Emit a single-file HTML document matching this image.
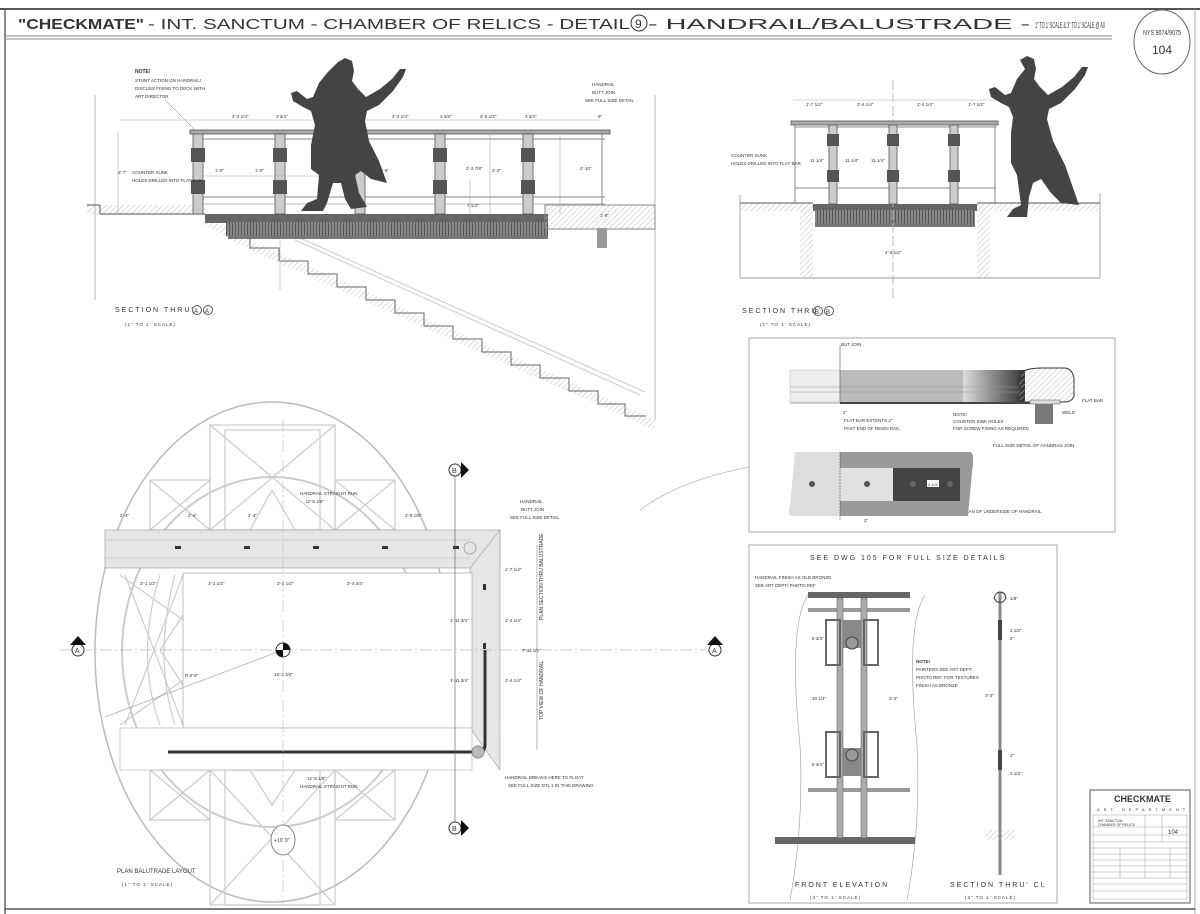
<!DOCTYPE html>
<html><head><meta charset="utf-8"><style>
html,body{margin:0;padding:0;background:#fff}
svg{display:block}
text{font-family:"Liberation Sans",sans-serif;fill:#333}
</style></head><body>
<svg width="1200" height="914" viewBox="0 0 1200 914" xmlns="http://www.w3.org/2000/svg">
<defs>
<pattern id="h" width="4" height="4" patternUnits="userSpaceOnUse" patternTransform="rotate(45)"><line x1="0" y1="0" x2="0" y2="4" stroke="#bbb" stroke-width="1"/></pattern>
<pattern id="g" width="3" height="6" patternUnits="userSpaceOnUse"><rect width="3" height="6" fill="#888"/><line x1="1.5" y1="0" x2="1.5" y2="6" stroke="#555"/></pattern>
<linearGradient id="grad" x1="0" x2="1"><stop offset="0" stop-color="#ddd"/><stop offset="1" stop-color="#333"/></linearGradient>
</defs>
<rect x="0" y="0" width="1200" height="914" fill="#fff"/>
<line x1="0" y1="9" x2="1200" y2="9" stroke="#555" stroke-width="2"/>
<line x1="5" y1="9" x2="5" y2="914" stroke="#666" stroke-width="1.5"/>
<line x1="5" y1="36" x2="1112" y2="36" stroke="#888" stroke-width="1"/>
<line x1="5" y1="39" x2="1112" y2="39" stroke="#888" stroke-width="1"/>
<line x1="1195" y1="9" x2="1195" y2="914" stroke="#aaa"/>
<line x1="5" y1="909" x2="1195" y2="909" stroke="#555" stroke-width="1.5"/>
<text x="18" y="29" font-size="15" font-weight="bold" fill="#111" textLength="126" lengthAdjust="spacingAndGlyphs">"CHECKMATE"</text>
<text x="148" y="29" font-size="15" fill="#222" textLength="482" lengthAdjust="spacingAndGlyphs">- INT. SANCTUM - CHAMBER OF RELICS - DETAIL</text>
<circle cx="639" cy="23" r="8" fill="none" stroke="#333"/><text x="635" y="28" font-size="12">9</text>
<text x="648" y="29" font-size="15" fill="#222" textLength="382" lengthAdjust="spacingAndGlyphs">- HANDRAIL/BALUSTRADE -</text>
<text x="1035" y="28" font-size="8" fill="#222" textLength="70" lengthAdjust="spacingAndGlyphs">1" TO 1' SCALE &amp; 3" TO 1' SCALE @ A0</text>
<ellipse cx="1162" cy="42" rx="28" ry="32" fill="#fff" stroke="#666"/>
<text x="1143" y="35" font-size="7" textLength="38" lengthAdjust="spacingAndGlyphs">NYS 9074/9075</text>
<text x="1152" y="54" font-size="12">104</text>

<!-- SECTION A-A -->
<line x1="95" y1="95" x2="95" y2="300" stroke="#bbb"/>
<line x1="655" y1="95" x2="655" y2="420" stroke="#bbb"/>
<rect x="87" y="205" width="118" height="10" fill="url(#h)"/>
<line x1="87" y1="205" x2="100" y2="205" stroke="#555"/><line x1="100" y1="205" x2="100" y2="214" stroke="#555"/>
<line x1="100" y1="214" x2="205" y2="214" stroke="#555"/>
<polygon points="205,215 250,240 655,420 655,430 250,250 205,225" fill="url(#h)"/>
<path d="M250,238 l0,10 29,0 0,13 29,0 0,13 29,0 0,13 29,0 0,13 29,0 0,13 29,0 0,13 29,0 0,13 29,0 0,13 29,0 0,13 29,0 0,13 29,0 0,13 29,0 0,13 27,0 0,12 21,0" fill="none" stroke="#666"/>
<line x1="295" y1="240" x2="640" y2="395" stroke="#ccc"/><line x1="300" y1="238" x2="645" y2="392" stroke="#ccc"/>
<line x1="280" y1="240" x2="280" y2="290" stroke="#ccc"/>
<rect x="205" y="214" width="343" height="9" fill="#666"/>
<rect x="226" y="222" width="322" height="14" fill="url(#g)"/>
<rect x="228" y="235" width="320" height="4" fill="#777"/>
<rect x="545" y="205" width="110" height="24" fill="url(#h)" stroke="#888"/>
<rect x="597" y="228" width="10" height="20" fill="#999"/>
<rect x="190" y="130" width="420" height="4" fill="#aaa" stroke="#555" stroke-width="0.8"/>
<line x1="198" y1="139" x2="605" y2="139" stroke="#888"/>
<line x1="198" y1="197" x2="605" y2="197" stroke="#888"/>
<line x1="198" y1="204" x2="605" y2="204" stroke="#bbb"/>
<g fill="#ccc" stroke="#555" stroke-width="0.8">
<rect x="193" y="134" width="10" height="80"/><rect x="275" y="134" width="10" height="80"/><rect x="355" y="134" width="10" height="80"/><rect x="435" y="134" width="10" height="80"/><rect x="523" y="134" width="10" height="80"/>
</g>
<g fill="#555">
<rect x="191" y="148" width="14" height="14"/><rect x="191" y="180" width="14" height="14"/>
<rect x="273" y="148" width="14" height="14"/><rect x="273" y="180" width="14" height="14"/>
<rect x="433" y="148" width="14" height="14"/><rect x="433" y="180" width="14" height="14"/>
<rect x="521" y="148" width="14" height="14"/><rect x="521" y="180" width="14" height="14"/>
</g>
<line x1="602" y1="134" x2="602" y2="205" stroke="#888"/>
<g stroke="#aaa" stroke-width="0.6"><line x1="120" y1="120" x2="600" y2="120"/><line x1="118" y1="132" x2="118" y2="214"/><line x1="200" y1="176" x2="350" y2="176"/><line x1="470" y1="180" x2="470" y2="214"/><line x1="490" y1="132" x2="490" y2="214"/><line x1="560" y1="132" x2="560" y2="214"/></g>
<!-- figure A -->
<path d="M338,62 l7,-4 7,3 2,10 -2,10 6,8 8,8 14,-8 12,-10 8,-10 6,0 -3,8 -10,14 -14,14 -12,6 -2,10 4,20 10,20 8,22 -16,-4 -10,-8 -6,4 4,18 8,14 -16,2 -6,-10 -4,-16 -8,0 -6,20 -4,8 -22,0 6,-8 10,-4 2,-24 -8,-6 0,-24 4,-20 -4,-14 -8,-4 -10,-6 -2,-8 6,-2 10,8 6,-2 6,-14 8,-10z" fill="#444"/>
<text x="135" y="73" font-size="5" font-weight="bold">NOTE!</text>
<text x="135" y="82" font-size="4.5">STUNT ACTION ON HANDRAIL!</text>
<text x="135" y="90" font-size="4.5">DISCUSS FIXING TO DECK WITH</text>
<text x="135" y="98" font-size="4.5">ART DIRECTOR</text>
<line x1="165" y1="100" x2="195" y2="130" stroke="#777" stroke-width="0.5"/>
<text x="132" y="174" font-size="4.5">COUNTER SUNK</text>
<text x="132" y="182" font-size="4.5">HOLES DRILLED INTO FLAT BAR</text>
<text x="118" y="174" font-size="4.5">3'-7"</text>
<text x="592" y="86" font-size="4.5">HANDRAIL</text><text x="592" y="94" font-size="4.5">BUTT JOIN</text><text x="585" y="102" font-size="4.5">SEE FULL SIZE DETAIL</text>
<g font-size="4.5"><text x="232" y="118">3'-2 1/4"</text><text x="276" y="118">3 3/4"</text><text x="392" y="118">3'-2 1/4"</text><text x="440" y="118">3 3/4"</text><text x="480" y="118">3'-5 1/2"</text><text x="525" y="118">3 3/4"</text><text x="598" y="118">9"</text>
<text x="215" y="172">1'-6"</text><text x="255" y="172">1'-6"</text><text x="380" y="172">1'-6"</text><text x="466" y="170">2'-3 7/8"</text><text x="492" y="172">2'-3"</text><text x="580" y="170">2'-10"</text><text x="467" y="207">7 1/4"</text><text x="600" y="217">1'-0"</text></g>
<text x="115" y="312" font-size="7" letter-spacing="2">SECTION THRU'</text>
<circle cx="197" cy="310" r="4.5" fill="none" stroke="#555"/><circle cx="208" cy="310" r="4.5" fill="none" stroke="#555"/>
<text x="194" y="313" font-size="6">A</text><text x="205" y="313" font-size="6">A</text>
<text x="125" y="326" font-size="4.5" letter-spacing="1">(1" TO 1' SCALE)</text>

<!-- SECTION B-B -->
<rect x="740" y="203" width="73" height="8" fill="url(#h)"/>
<line x1="740" y1="203" x2="813" y2="203" stroke="#555"/>
<line x1="740" y1="278" x2="1100" y2="278" stroke="#999"/>
<line x1="740" y1="195" x2="740" y2="278" stroke="#aaa"/><line x1="1100" y1="193" x2="1100" y2="278" stroke="#aaa"/>
<rect x="800" y="205" width="13" height="73" fill="url(#h)"/><rect x="977" y="205" width="13" height="73" fill="url(#h)"/>
<rect x="977" y="203" width="123" height="8" fill="url(#h)"/>
<line x1="977" y1="203" x2="1100" y2="203" stroke="#555"/>
<rect x="813" y="204" width="164" height="7" fill="#666"/>
<rect x="815" y="210" width="160" height="14" fill="url(#g)"/>
<rect x="815" y="223" width="160" height="4" fill="#777"/>
<line x1="893" y1="80" x2="893" y2="300" stroke="#bbb" stroke-dasharray="10,3"/>
<rect x="791" y="121" width="207" height="4" fill="#aaa" stroke="#555" stroke-width="0.8"/>
<line x1="795" y1="127" x2="996" y2="127" stroke="#888"/>
<line x1="795" y1="188" x2="996" y2="188" stroke="#888"/>
<line x1="795" y1="125" x2="795" y2="204" stroke="#888"/><line x1="995" y1="125" x2="995" y2="204" stroke="#888"/>
<g fill="#ccc" stroke="#555" stroke-width="0.8"><rect x="829" y="125" width="8" height="79"/><rect x="889" y="125" width="8" height="79"/><rect x="950" y="125" width="8" height="79"/></g>
<g fill="#555"><rect x="827" y="134" width="12" height="12"/><rect x="827" y="170" width="12" height="12"/><rect x="887" y="134" width="12" height="12"/><rect x="887" y="170" width="12" height="12"/><rect x="948" y="134" width="12" height="12"/><rect x="948" y="170" width="12" height="12"/></g>
<g font-size="4.5"><text x="806" y="106">1'-7 1/2"</text><text x="857" y="106">2'-4 1/4"</text><text x="917" y="106">2'-4 1/4"</text><text x="968" y="106">1'-7 1/2"</text>
<text x="810" y="162">11 1/4"</text><text x="845" y="162">11 1/4"</text><text x="871" y="162">11 1/4"</text><text x="885" y="254">4'-5 1/2"</text></g>
<line x1="793" y1="100" x2="996" y2="100" stroke="#aaa" stroke-width="0.6"/>
<text x="731" y="157" font-size="4.5">COUNTER SUNK</text><text x="731" y="165" font-size="4.5">HOLES DRILLED INTO FLAT BAR</text>
<!-- figure B -->
<path d="M1020,60 l7,-4 7,3 2,10 -2,10 6,8 8,8 14,-8 12,-10 8,-10 6,0 -3,8 -10,14 -14,14 -12,6 -2,10 6,22 12,24 14,40 -18,-2 -10,-10 -10,-14 -8,4 -4,14 -2,20 -20,0 6,-8 8,-4 -4,-30 -6,-12 0,-30 2,-16 -4,-10 -8,-4 -10,-6 -2,-8 6,-2 10,8 6,-2 6,-14 8,-10z" fill="#444"/>
<text x="742" y="313" font-size="7" letter-spacing="2">SECTION THRU'</text>
<circle cx="818" cy="311" r="4.5" fill="none" stroke="#555"/><circle cx="829" cy="311" r="4.5" fill="none" stroke="#555"/>
<text x="815" y="314" font-size="6">B</text><text x="826" y="314" font-size="6">B</text>
<text x="760" y="326" font-size="4.5" letter-spacing="1">(1" TO 1' SCALE)</text>

<!-- DETAIL BOX -->
<rect x="749" y="338" width="366" height="194" fill="none" stroke="#aaa"/>
<rect x="790" y="370" width="50" height="32" fill="#eee" stroke="#bbb" stroke-width="0.5"/>
<rect x="840" y="370" width="185" height="32" fill="#bbb"/>
<rect x="963" y="370" width="62" height="32" fill="url(#grad)"/>
<line x1="790" y1="387" x2="1020" y2="387" stroke="#999" stroke-width="0.5"/>
<line x1="790" y1="392" x2="1020" y2="392" stroke="#999" stroke-width="0.5"/>
<path d="M1022,372 q6,-4 20,-4 l22,0 q8,0 10,10 l0,18 q-2,6 -10,6 l-40,0 q-6,0 -6,-6 l4,-6 -4,-6z" fill="url(#h)" stroke="#333"/>
<rect x="840" y="402" width="190" height="2" fill="#444"/>
<rect x="790" y="402" width="50" height="2" fill="#ccc"/>
<rect x="1030" y="400" width="30" height="4" fill="#ddd" stroke="#555" stroke-width="0.5"/>
<rect x="1035" y="404" width="18" height="20" fill="#777"/>
<line x1="840" y1="345" x2="840" y2="402" stroke="#555" stroke-width="0.6"/>
<text x="841" y="346" font-size="4.5">BUT JOIN</text>
<g font-size="4.5"><text x="843" y="414">2"</text><text x="844" y="422">FLAT BAR EXTENTS 2"</text><text x="844" y="430">PAST END OF RESIN RAIL</text>
<text x="953" y="416">NOTE!</text><text x="953" y="423">COUNTER SINK HOLES</text><text x="953" y="430">FOR SCREW FIXING AS REQUIRED</text>
<text x="1082" y="402">FLAT BAR</text><text x="1062" y="414">WELD</text>
<text x="993" y="447">FULL SIZE DETAIL OF HANDRAIL JOIN</text>
<text x="963" y="513">PLAN OF UNDERSIDE OF HANDRAIL</text><text x="864" y="522">2"</text></g>
<path d="M795,452 l45,0 0,64 -48,0 q-5,0 -2,-10z" fill="#ddd"/>
<rect x="840" y="452" width="122" height="64" fill="#999"/>
<rect x="840" y="468" width="53" height="33" fill="#e2e2e2"/>
<rect x="893" y="468" width="67" height="33" fill="#444"/>
<path d="M960,452 l10,0 q5,0 2,20 l-4,44 -8,0z" fill="#999"/>
<circle cx="812" cy="484" r="3" fill="#555"/><circle cx="867" cy="484" r="3" fill="#555"/><circle cx="913" cy="484" r="3" fill="#666"/><circle cx="950" cy="484" r="3" fill="#666"/>
<rect x="927" y="480" width="12" height="7" fill="#fff"/><text x="928" y="486" font-size="4">2 1/4"</text>
<line x1="840" y1="452" x2="840" y2="520" stroke="#333" stroke-dasharray="2,1" stroke-width="0.5"/>
<path d="M640,510 q40,-30 110,-43" fill="none" stroke="#999" stroke-width="0.6"/>

<!-- FRONT ELEVATION BOX -->
<rect x="749" y="545" width="308" height="358" fill="none" stroke="#aaa"/>
<text x="810" y="560" font-size="7" letter-spacing="2">SEE DWG 105 FOR FULL SIZE DETAILS</text>
<text x="755" y="579" font-size="4.5">HANDRAIL FINISH AS OLD BRONZE</text><text x="755" y="587" font-size="4.5">SEE ART DEPT/ PHOTO REF</text>
<path d="M808,595 q-20,30 -8,150 q4,80 -10,155" fill="none" stroke="#999" stroke-width="0.6"/>
<path d="M925,595 q-20,30 -8,150 q4,80 -10,155" fill="none" stroke="#999" stroke-width="0.6"/>
<rect x="808" y="592" width="102" height="6" fill="#666"/>
<rect x="808" y="608" width="102" height="4" fill="#999"/>
<rect x="808" y="788" width="102" height="4" fill="#999"/>
<rect x="775" y="837" width="140" height="7" fill="#666"/>
<rect x="837" y="598" width="6" height="240" fill="#aaa" stroke="#555" stroke-width="0.5"/>
<rect x="861" y="598" width="6" height="240" fill="#aaa" stroke="#555" stroke-width="0.5"/>
<g fill="none" stroke="#666" stroke-width="2"><rect x="826" y="620" width="14" height="45"/><rect x="864" y="620" width="14" height="45"/><rect x="826" y="732" width="14" height="45"/><rect x="864" y="732" width="14" height="45"/></g>
<rect x="843" y="620" width="18" height="28" fill="#888"/><circle cx="852" cy="643" r="6" fill="#999" stroke="#444"/>
<rect x="843" y="748" width="18" height="28" fill="#888"/><circle cx="852" cy="755" r="6" fill="#999" stroke="#444"/>
<g font-size="4.5"><text x="812" y="640">8 3/4"</text><text x="812" y="700">10 1/4"</text><text x="812" y="766">8 3/4"</text><text x="889" y="700">3'-3"</text>
<text x="916" y="663" font-weight="bold">NOTE!</text><text x="916" y="671">PAINTERS SEE ART DEPT.</text><text x="916" y="679">PHOTO REF. FOR TEXTURES</text><text x="916" y="687">FINISH AS BRONZE</text></g>
<line x1="1000" y1="592" x2="1000" y2="875" stroke="#888" stroke-width="3"/>
<path d="M994,598 q2,-6 6,-6 q5,0 6,6 l-3,4 -6,0z" fill="url(#h)" stroke="#333"/>
<rect x="998" y="620" width="4" height="20" fill="#444"/><rect x="998" y="750" width="4" height="20" fill="#444"/>
<rect x="985" y="830" width="30" height="10" fill="url(#h)"/>
<g font-size="4.5"><text x="1010" y="600">1/8"</text><text x="1010" y="632">2 1/2"</text><text x="1010" y="640">2"</text><text x="985" y="697">3'-3"</text><text x="1010" y="757">2"</text><text x="1010" y="775">2 1/2"</text></g>
<text x="795" y="887" font-size="7" letter-spacing="2">FRONT ELEVATION</text>
<text x="810" y="899" font-size="4.5" letter-spacing="1">(3" TO 1' SCALE)</text>
<text x="950" y="887" font-size="7" letter-spacing="2">SECTION THRU' CL</text>
<text x="965" y="899" font-size="4.5" letter-spacing="1">(3" TO 1' SCALE)</text>

<!-- TITLE BLOCK -->
<rect x="1090" y="790" width="100" height="113" fill="#fff" stroke="#555"/>
<text x="1114" y="802" font-size="9" font-weight="bold" fill="#222">CHECKMATE</text>
<text x="1097" y="811" font-size="4" letter-spacing="4">ART DEPARTMENT</text>
<g stroke="#888" stroke-width="0.4" fill="none">
<rect x="1093" y="815" width="94" height="84"/>
<line x1="1093" y1="827" x2="1187" y2="827"/><line x1="1093" y1="835" x2="1187" y2="835"/><line x1="1093" y1="842" x2="1187" y2="842"/>
<line x1="1093" y1="848" x2="1187" y2="848"/><line x1="1093" y1="854" x2="1187" y2="854"/><line x1="1093" y1="860" x2="1187" y2="860"/><line x1="1093" y1="866" x2="1187" y2="866"/><line x1="1093" y1="872" x2="1187" y2="872"/><line x1="1093" y1="878" x2="1187" y2="878"/><line x1="1093" y1="884" x2="1187" y2="884"/><line x1="1093" y1="891" x2="1187" y2="891"/>
<line x1="1145" y1="815" x2="1145" y2="878"/><line x1="1162" y1="815" x2="1162" y2="842"/><line x1="1120" y1="848" x2="1120" y2="878"/><line x1="1170" y1="848" x2="1170" y2="878"/>
</g>
<text x="1098" y="822" font-size="3.5">INT. SANCTUM</text><text x="1098" y="826" font-size="3.5">CHAMBER OF RELICS</text>
<text x="1168" y="834" font-size="6">104</text>

<!-- PLAN -->
<ellipse cx="272" cy="652" rx="177" ry="250" fill="none" stroke="#bbb" stroke-width="1.5"/>
<ellipse cx="272" cy="652" rx="150" ry="175" fill="none" stroke="#ccc" stroke-width="2"/>
<g stroke="#ccc" stroke-width="1.2" fill="none">
<rect x="210" y="425" width="125" height="105"/><rect x="225" y="430" width="95" height="100"/>
<line x1="210" y1="425" x2="335" y2="530"/><line x1="335" y1="425" x2="210" y2="530"/>
<polyline points="250,530 272,490 295,530"/>
<rect x="210" y="770" width="125" height="135"/><rect x="225" y="770" width="95" height="135"/>
<line x1="210" y1="770" x2="335" y2="905"/><line x1="335" y1="770" x2="210" y2="905"/>
<polyline points="250,770 272,805 295,770"/>
<rect x="150" y="480" width="60" height="50"/><rect x="335" y="480" width="60" height="50"/>
<rect x="150" y="770" width="60" height="50"/><rect x="335" y="770" width="60" height="50"/>
<line x1="150" y1="480" x2="210" y2="530"/><line x1="210" y1="480" x2="150" y2="530"/>
<line x1="335" y1="480" x2="395" y2="530"/><line x1="395" y1="480" x2="335" y2="530"/>
<line x1="150" y1="770" x2="210" y2="820"/><line x1="335" y1="770" x2="395" y2="820"/><line x1="395" y1="770" x2="335" y2="820"/><line x1="210" y1="770" x2="150" y2="820"/>
<path d="M160,575 q-25,80 0,150"/><path d="M175,575 q-22,80 0,150"/>
<line x1="120" y1="575" x2="183" y2="620"/><line x1="120" y1="725" x2="183" y2="680"/>
<polyline points="183,615 160,650 183,685"/>
<line x1="125" y1="575" x2="183" y2="725"/><line x1="125" y1="725" x2="183" y2="575"/>
</g>
<rect x="105" y="530" width="395" height="38" fill="#e6e6e6" stroke="#999" stroke-width="0.6"/>
<line x1="105" y1="540" x2="470" y2="540" stroke="#bbb" stroke-dasharray="1,1"/><line x1="105" y1="558" x2="470" y2="558" stroke="#bbb" stroke-dasharray="1,1"/>
<polygon points="470,568 500,530 500,770 470,728" fill="#e6e6e6" stroke="#999" stroke-width="0.6"/>
<rect x="183" y="573" width="289" height="155" fill="#fff" stroke="#999" stroke-width="0.6"/>
<rect x="120" y="728" width="352" height="42" fill="#fff" stroke="#aaa" stroke-width="0.6"/>
<path d="M168,752 L478,752 q7,0 7,-7 L485,650" fill="none" stroke="#333" stroke-width="3"/>
<circle cx="478" cy="752" r="6" fill="#bbb" stroke="#888"/>
<circle cx="470" cy="548" r="6" fill="none" stroke="#888" stroke-width="0.6"/>
<g fill="#333"><rect x="175" y="546" width="6" height="3"/><rect x="244" y="546" width="6" height="3"/><rect x="313" y="546" width="6" height="3"/><rect x="382" y="546" width="6" height="3"/><rect x="453" y="546" width="6" height="3"/><rect x="483" y="584" width="3" height="6"/><rect x="483" y="643" width="3" height="6"/></g>
<line x1="60" y1="650" x2="720" y2="650" stroke="#999" stroke-width="0.6" stroke-dasharray="12,3,2,3"/>
<line x1="283" y1="420" x2="283" y2="905" stroke="#bbb" stroke-width="0.6" stroke-dasharray="12,3,2,3"/>
<line x1="455" y1="470" x2="455" y2="830" stroke="#555" stroke-width="0.6"/>
<line x1="283" y1="650" x2="105" y2="717" stroke="#999" stroke-width="0.6"/>
<circle cx="283" cy="650" r="7" fill="#fff" stroke="#333"/>
<path d="M283,643 A7,7 0 0,1 290,650 L283,650z M283,657 A7,7 0 0,1 276,650 L283,650z" fill="#111"/>
<g font-size="4.5">
<text x="300" y="495">HANDRAIL STRAIGHT RUN</text><text x="305" y="503">12'-5 1/8"</text>
<text x="120" y="517">2'-4"</text><text x="188" y="517">2'-4"</text><text x="248" y="517">2'-4"</text><text x="405" y="517">2'-9 1/8"</text>
<text x="140" y="585">3'-1 1/2"</text><text x="208" y="585">3'-1 1/2"</text><text x="277" y="585">3'-1 1/2"</text><text x="347" y="585">3'-4 3/4"</text>
<text x="274" y="676">19'-2 3/4"</text><text x="185" y="677">R 9'-6"</text>
<text x="450" y="622">1'-11 3/4"</text><text x="450" y="682">1'-11 3/4"</text>
<text x="505" y="571">1'-7 1/2"</text><text x="505" y="622">2'-4 1/4"</text><text x="505" y="682">2'-4 1/4"</text><text x="522" y="652">7'-11 1/2"</text>
<text x="307" y="780">12'-5 1/8"</text><text x="300" y="788">HANDRAIL STRAIGHT RUN</text>
<text x="520" y="503">HANDRAIL</text><text x="521" y="511">BUTT JOIN</text><text x="510" y="519">SEE FULL SIZE DETAIL</text>
<text x="505" y="779">HANDRAIL BREAKS HERE TO FLOAT</text><text x="508" y="787">SEE FULL SIZE DTL 1 IN THIS DRAWING</text>
</g>
<text x="0" y="0" font-size="5" transform="translate(543,620) rotate(-90)">PLAN SECTION THRU BALUSTRADE</text>
<text x="0" y="0" font-size="5" transform="translate(543,720) rotate(-90)">TOP VIEW OF HANDRAIL</text>
<line x1="537" y1="545" x2="537" y2="750" stroke="#888" stroke-width="0.6"/>
<g fill="#fff" stroke="#333">
<circle cx="78" cy="650" r="6"/><circle cx="715" cy="650" r="6"/><circle cx="455" cy="470" r="6"/><circle cx="455" cy="828" r="6"/>
</g>
<path d="M70,645 l8,-9 8,9z" fill="#111"/><path d="M707,645 l8,-9 8,9z" fill="#111"/>
<path d="M461,462 l8,8 -8,8z" fill="#111"/><path d="M461,820 l8,8 -8,8z" fill="#111"/>
<g font-size="7"><text x="75" y="653">A</text><text x="712" y="653">A</text><text x="452" y="473">B</text><text x="452" y="831">B</text></g>
<ellipse cx="283" cy="840" rx="12" ry="15" fill="#fff" stroke="#888"/>
<text x="274" y="842" font-size="5">+10' 9"</text>
<text x="117" y="873" font-size="6">PLAN BALUTRADE LAYOUT</text>
<text x="122" y="886" font-size="4.5" letter-spacing="1">(1" TO 1' SCALE)</text>
</svg>
</body></html>
